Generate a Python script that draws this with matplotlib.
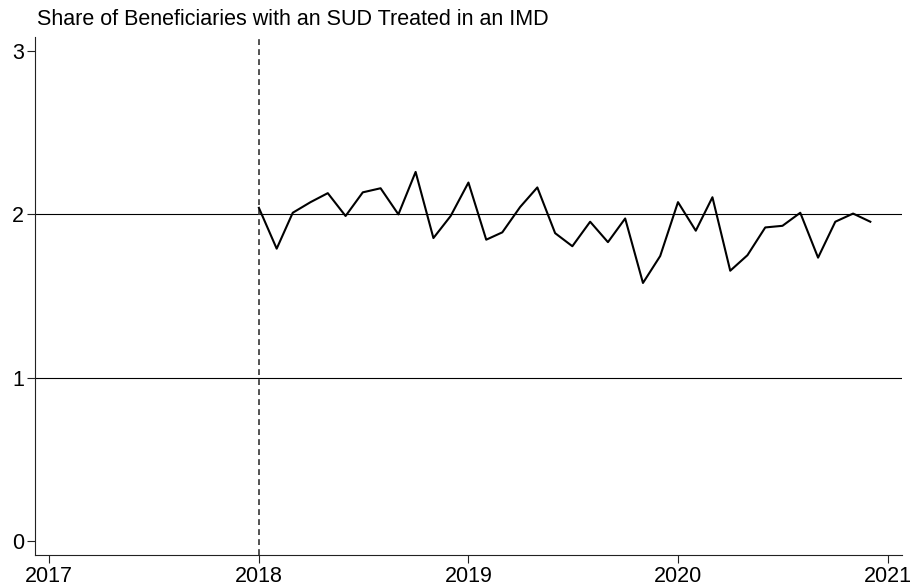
import matplotlib
matplotlib.use("Agg")
import matplotlib.pyplot as plt
import matplotlib.dates as mdates
import pandas as pd

# monthly share, Jan 2018 - Dec 2020
months = pd.date_range("2018-01-01", periods=36, freq="MS")
share = [2.04, 1.79, 2.01, 2.075, 2.13, 1.99, 2.135, 2.16, 2.00, 2.26, 1.855, 1.99,
         2.195, 1.845, 1.89, 2.045, 2.165, 1.885, 1.805, 1.955, 1.83, 1.975, 1.58, 1.745,
         2.075, 1.90, 2.105, 1.655, 1.75, 1.92, 1.93, 2.01, 1.735, 1.955, 2.005, 1.955]
year_ticks = [2017, 2018, 2019, 2020, 2021]
y_ticks = [0, 1, 2, 3]
policy_start = "2018-01-01"
title = "Share of Beneficiaries with an SUD Treated in an IMD"

plt.rcParams["font.family"] = ["Liberation Sans", "DejaVu Sans"]

fig = plt.figure(figsize=(9.11, 5.88), dpi=100)
ax = fig.add_axes([0.0384, 0.0561, 0.9516, 0.8809])

for yv in [1, 2]:
    ax.axhline(yv, color="black", lw=0.8, zorder=1)
ax.axvline(pd.Timestamp(policy_start), color="#333333", lw=1.2,
           linestyle=(0, (3.5, 2.5)), zorder=2)
ax.plot(months, share, color="black", lw=1.5, zorder=3)

ax.set_ylim(-0.086, 3.086)
ax.set_yticks(y_ticks)
ax.set_xticks([pd.Timestamp(f"{y}-01-01") for y in year_ticks])
ax.xaxis.set_major_formatter(mdates.DateFormatter("%Y"))
ax.set_xlim(pd.Timestamp("2016-12-07"), pd.Timestamp("2021-01-25"))

for s in ["top", "right"]:
    ax.spines[s].set_visible(False)
for s in ["left", "bottom"]:
    ax.spines[s].set_linewidth(0.8)
    ax.spines[s].set_color("#222222")
ax.tick_params(axis="both", labelsize=15.5, length=6, width=0.8, color="#222222", pad=2)

fig.text(0.041, 0.966, title, fontsize=15.5, ha="left", va="center")

fig.savefig("out.png", dpi=100)
